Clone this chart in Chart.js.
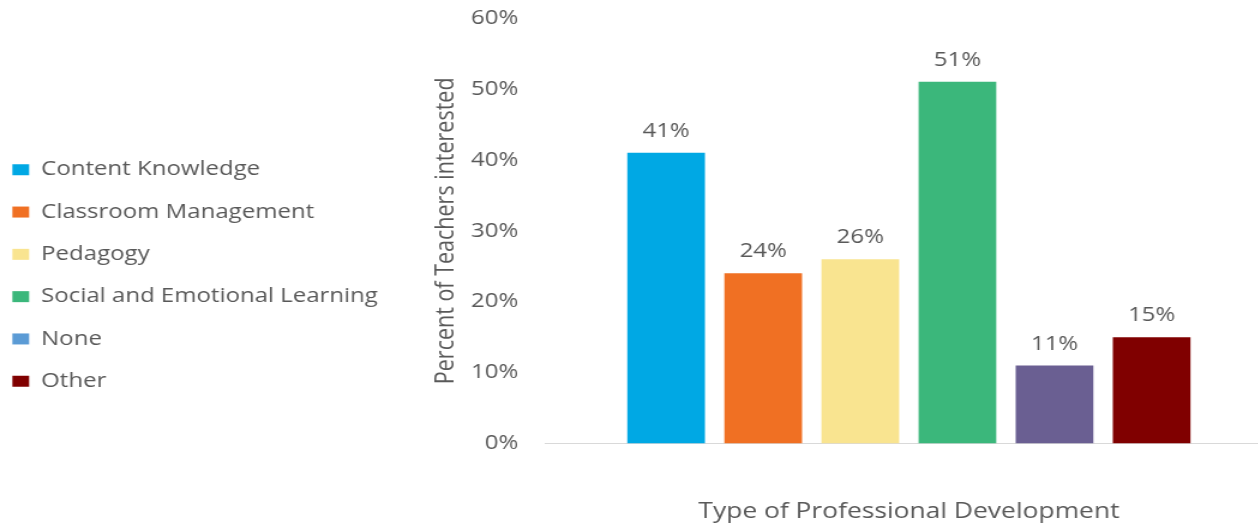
<!DOCTYPE html>
<html>
<head>
<meta charset="utf-8">
<script src="https://cdn.jsdelivr.net/npm/chart.js@4.4.1/dist/chart.umd.min.js"></script>
<style>
  html, body { margin: 0; padding: 0; background: #fff; overflow: hidden; }
</style>
</head>
<body>
<!-- the reference picture is stretched sideways, so the canvas is drawn narrow and widened by css -->
<canvas id="pdChart" width="1061" height="527" style="width:1273px;height:527px;display:block"></canvas>
<script>
const categories = ["Content Knowledge", "Classroom Management", "Pedagogy", "Social and Emotional Learning", "None", "Other"];
const percents = [41, 24, 26, 51, 11, 15];
const barColors = ["#00A8E4", "#F07023", "#F9E490", "#3BB77B", "#6A5F92", "#800000"];
const legendColors = ["#00A8E4", "#F07023", "#F9E490", "#3BB77B", "#5B9BD5", "#800000"];
const yTicks = [0, 10, 20, 30, 40, 50, 60];

const textGray = "#595959";
const fontFamily = "'Open Sans', sans-serif";
const PAD_LEFT = -12;
const PLOT_LEFT = 454;

const barLabels = {
    id: "barLabels",
    afterDatasetsDraw(chart) {
        const ctx = chart.ctx;
        ctx.save();
        ctx.font = "20px " + fontFamily;
        ctx.fillStyle = textGray;
        ctx.textAlign = "center";
        ctx.textBaseline = "alphabetic";
        chart.data.datasets.forEach((ds, i) => {
            const bar = chart.getDatasetMeta(i).data[0];
            ctx.fillText(ds.data[0] + "%", bar.x, bar.y - 16);
        });
        ctx.restore();
    }
};

const ctx = document.getElementById("pdChart");

new Chart(ctx, {
    type: "bar",
    data: {
        labels: [""],
        datasets: categories.map((name, i) => ({
            label: name,
            data: [percents[i]],
            backgroundColor: barColors[i],
            borderWidth: 0,
        })),
    },
    options: {
        responsive: false,
        animation: false,
        layout: { padding: { top: 18, right: 0, bottom: 0, left: PAD_LEFT } },
        datasets: {
            bar: { categoryPercentage: 0.8, barPercentage: 0.8 }
        },
        plugins: {
            tooltip: { enabled: false },
            legend: {
                position: "left",
                align: "center",
                maxWidth: 400,
                // empty title only nudges the rows down a little
                title: { display: true, text: "", padding: 0, font: { size: 6, lineHeight: 1 } },
                labels: {
                    boxWidth: 14,
                    boxHeight: 11,
                    padding: 22.3,
                    color: textGray,
                    font: { family: fontFamily, size: 20 },
                    generateLabels(chart) {
                        return chart.data.datasets.map((ds, i) => ({
                            text: ds.label,
                            fillStyle: legendColors[i],
                            strokeStyle: legendColors[i],
                            lineWidth: 0,
                            fontColor: textGray,
                            datasetIndex: i,
                        }));
                    }
                }
            }
        },
        scales: {
            x: {
                grid: { display: false, drawTicks: false },
                border: { display: true, color: "#D9D9D9", width: 1 },
                ticks: { display: false },
                title: {
                    display: true,
                    text: "Type of Professional Development",
                    color: textGray,
                    font: { family: fontFamily, size: 22 },
                    padding: { top: 55, bottom: 2 }
                }
            },
            y: {
                min: 0,
                max: 60,
                afterBuildTicks(scale) {
                    scale.ticks = yTicks.map(v => ({ value: v }));
                },
                afterFit(scale) {
                    const lg = scale.chart.legend;
                    scale.width = PLOT_LEFT - PAD_LEFT - (lg ? lg.width : 0);
                },
                grid: { display: false, tickLength: 22 },
                border: { display: false },
                ticks: {
                    color: textGray,
                    padding: 0,
                    font: { family: fontFamily, size: 20 },
                    callback: v => v + "%"
                },
                title: {
                    display: true,
                    text: "Percent of Teachers interested",
                    color: textGray,
                    font: { family: fontFamily, size: 21.5 },
                    padding: { top: 34, bottom: 0 }
                }
            }
        }
    },
    plugins: [barLabels]
});
</script>
</body>
</html>
